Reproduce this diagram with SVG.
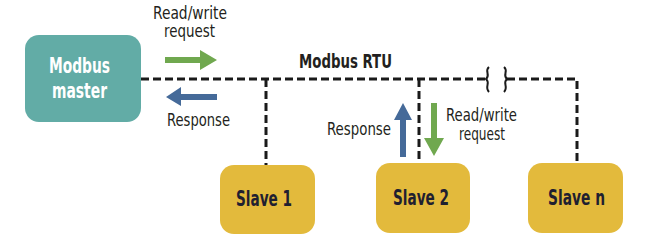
<svg xmlns="http://www.w3.org/2000/svg" width="650" height="243" viewBox="0 0 650 243">
<style>
.bus{fill:none;stroke:#1a1a1a;stroke-width:3;stroke-dasharray:8 4}
.brk{fill:none;stroke:#1a1a1a;stroke-width:2}
.lbl{font-family:"Liberation Sans Narrow","DejaVu Sans Condensed","Liberation Sans",sans-serif;font-size:17px;fill:#231f20}
.ttl{font-family:"Liberation Sans Narrow","DejaVu Sans Condensed","Liberation Sans",sans-serif;font-size:20px;font-weight:bold;fill:#231f20}
.mst{font-family:"Liberation Sans Narrow","DejaVu Sans Condensed","Liberation Sans",sans-serif;font-size:22px;font-weight:bold;fill:#ffffff}
.slv{font-family:"Liberation Sans Narrow","DejaVu Sans Condensed","Liberation Sans",sans-serif;font-size:21px;font-weight:bold;fill:#1f2030}
.green{fill:#70a84f}
.blue{fill:#456a99}
</style>
<rect width="650" height="243" fill="#ffffff"/>
<g id="connectors">
<path class="bus" d="M141,79 H485"/>
<path class="bus" d="M507,79 H577 V165"/>
<path class="bus" d="M266,79 V165"/>
<path class="bus" d="M419,79 V164"/>
<path class="brk" d="M489,67 C484,71 491,75 486,79 C491,83 484,87 489,92"/>
<path class="brk" d="M504,67 C509,71 502,75 507,79 C502,83 509,87 504,92"/>
</g>
<g id="arrows">
<polygon class="green" points="165,57 200,57 200,50 217,60 200,70 200,63 165,63"/>
<polygon class="blue" points="217,94 181,94 181,87 166,97 181,106 181,100 217,100"/>
<polygon class="blue" points="400,157 400,120 394,120 403,103 412,120 406,120 406,157"/>
<polygon class="green" points="431,103 437,103 437,138 444,138 434,156 424,138 431,138"/>
</g>
<g id="labels">
<text class="lbl" x="153" y="19" textLength="74" lengthAdjust="spacingAndGlyphs">Read/write</text>
<text class="lbl" x="164" y="37" textLength="51" lengthAdjust="spacingAndGlyphs">request</text>
<text class="lbl" x="167" y="126" textLength="63" lengthAdjust="spacingAndGlyphs">Response</text>
<text class="ttl" x="299" y="68" textLength="93" lengthAdjust="spacingAndGlyphs">Modbus RTU</text>
<text class="lbl" x="327" y="135" textLength="64" lengthAdjust="spacingAndGlyphs">Response</text>
<text class="lbl" x="446" y="121" textLength="71" lengthAdjust="spacingAndGlyphs">Read/write</text>
<text class="lbl" x="459" y="140" textLength="46" lengthAdjust="spacingAndGlyphs">request</text>
</g>
<g id="master">
<rect x="25" y="35" width="116" height="87" rx="14" fill="#62aca6"/>
<text class="mst" x="49" y="73" textLength="61" lengthAdjust="spacingAndGlyphs">Modbus</text>
<text class="mst" x="52" y="98" textLength="55" lengthAdjust="spacingAndGlyphs">master</text>
</g>
<g id="slave1">
<rect x="220" y="165" width="95" height="69" rx="14" fill="#e3ba3c"/>
<text class="slv" x="236" y="206" textLength="56" lengthAdjust="spacingAndGlyphs">Slave 1</text>
</g>
<g id="slave2">
<rect x="376" y="163" width="94" height="70" rx="14" fill="#e3ba3c"/>
<text class="slv" x="393" y="205" textLength="56" lengthAdjust="spacingAndGlyphs">Slave 2</text>
</g>
<g id="slaven">
<rect x="528" y="163" width="95" height="70" rx="14" fill="#e3ba3c"/>
<text class="slv" x="548" y="205" textLength="57" lengthAdjust="spacingAndGlyphs">Slave n</text>
</g>
</svg>
